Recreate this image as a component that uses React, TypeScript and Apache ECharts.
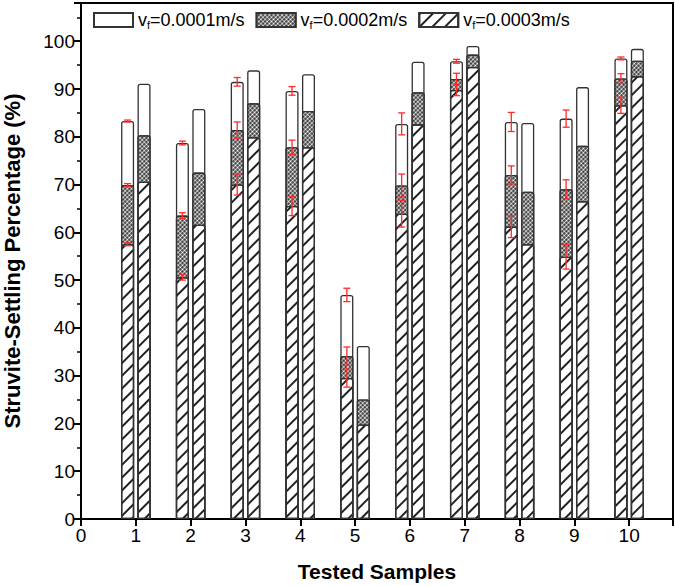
import React, { useEffect, useRef } from "react";
import * as echarts from "echarts";

const samples = [1, 2, 3, 4, 5, 6, 7, 8, 9, 10];
const speeds = ["0.0001", "0.0002", "0.0003"];

// left bars (with error bars)
const leftV1 = [83.3, 78.7, 91.5, 89.6, 46.9, 82.7, 95.8, 83.1, 83.8, 96.4];
const leftV2 = [69.9, 63.5, 81.4, 77.8, 34.1, 69.8, 92.1, 72.0, 69.0, 92.2];
const leftV3 = [57.5, 50.6, 70.0, 65.5, 29.5, 63.9, 89.8, 61.2, 54.9, 86.6];
const errV1 = [0.2, 0.4, 0.9, 0.9, 1.4, 2.3, 0.4, 2.0, 1.8, 0.3];
const errV2 = [0.3, 0.6, 1.7, 1.5, 1.9, 2.4, 1.2, 1.9, 2.0, 1.0];
const errV3 = [0.3, 0.6, 2.2, 2.0, 1.9, 2.8, 1.2, 2.3, 2.6, 1.7];

// right bars
const rightV1 = [91.1, 85.8, 93.9, 93.1, 36.2, 95.7, 99.0, 82.9, 90.4, 98.4];
const rightV2 = [80.3, 72.5, 87.0, 85.4, 25.0, 89.3, 97.2, 68.5, 78.1, 95.9];
const rightV3 = [70.6, 61.6, 79.9, 77.8, 19.8, 82.6, 94.6, 57.5, 66.5, 92.7];

const xTicks = [0, 1, 2, 3, 4, 5, 6, 7, 8, 9, 10];
const yTicks = [0, 10, 20, 30, 40, 50, 60, 70, 80, 90, 100];

const LEFT_OFF = -0.15;
const RIGHT_OFF = 0.15;
const FONT = 'Arial, "Liberation Sans", sans-serif';

const names = speeds.map((s) => `vf=${s}m/s`);

const fills = ["#ffffff", "#2b2b2b", "#ffffff"];
const decals: any[] = [
  undefined,
  {
    symbol: "circle",
    symbolSize: 0.75,
    color: "#ffffff",
    dashArrayX: [3, 0],
    dashArrayY: [3, 0],
    rotation: Math.PI / 4,
  },
  {
    symbol: "rect",
    symbolSize: 1,
    color: "#222",
    dashArrayX: [1, 0],
    dashArrayY: [1.1, 6.5],
    rotation: -Math.PI / 4,
  },
];

function barSeries(idx: number, values: number[], off: number) {
  return {
    type: "bar",
    name: names[idx],
    barWidth: 13,
    barGap: "-100%",
    data: samples.map((s, i) => [s + off, values[i]]),
    itemStyle: {
      color: fills[idx],
      borderColor: "#333",
      borderWidth: 1.3,
      borderRadius: [2, 2, 0, 0],
      decal: decals[idx],
    },
    silent: true,
  };
}

const errData = [
  ...samples.map((s, i) => [s + LEFT_OFF, leftV1[i], errV1[i]]),
  ...samples.map((s, i) => [s + LEFT_OFF, leftV2[i], errV2[i]]),
  ...samples.map((s, i) => [s + LEFT_OFF, leftV3[i], errV3[i]]),
];

export default function App() {
  const ref = useRef<HTMLDivElement>(null);
  useEffect(() => {
    if (!ref.current) return;
    const chart = echarts.init(ref.current, undefined, { renderer: "svg" });
    const option: any = {
      animation: false,
      aria: { enabled: false },
      grid: {
        left: 81,
        right: 2,
        top: 3,
        bottom: 67,
        show: true,
        borderColor: "#000",
        borderWidth: 2,
        backgroundColor: "transparent",
        containLabel: false,
        outerBoundsMode: "none",
      },
      legend: {
        data: names,
        left: 88,
        top: 6,
        icon: "rect",
        itemWidth: 39,
        itemHeight: 14,
        itemGap: 11,
        formatter: (n: string) => `v{sub|f}${n.slice(2)}`,
        textStyle: {
          fontSize: 18,
          color: "#000",
          fontFamily: FONT,
          rich: {
            sub: { fontSize: 11, fontFamily: FONT, color: "#000", padding: [10, 0, 0, 0] },
          },
        },
      },
      xAxis: {
        type: "value",
        min: 0,
        max: 10.8,
        interval: 1,
        name: "Tested Samples",
        nameLocation: "middle",
        nameGap: 42,
        nameTextStyle: { fontSize: 21, fontWeight: "bold", color: "#000", fontFamily: FONT },
        axisLine: { show: true, onZero: false, lineStyle: { color: "#000", width: 2 } },
        axisTick: { show: true, length: 7, lineStyle: { color: "#000", width: 2 } },
        axisLabel: {
          fontSize: 19,
          color: "#000",
          fontFamily: FONT,
          margin: 7,
          formatter: (v: number) => (xTicks.includes(v) ? String(v) : ""),
        },
        splitLine: { show: false },
      },
      yAxis: {
        type: "value",
        min: 0,
        max: 108,
        interval: 10,
        name: "Struvite-Settling Percentage (%)",
        nameLocation: "middle",
        nameGap: 58,
        nameTextStyle: { fontSize: 22, fontWeight: "bold", color: "#000", fontFamily: FONT },
        axisLine: { show: true, lineStyle: { color: "#000", width: 2 } },
        axisTick: { show: true, length: 7, lineStyle: { color: "#000", width: 2 } },
        minorTick: { show: true, splitNumber: 2, length: 4, lineStyle: { color: "#000", width: 1.5 } },
        axisLabel: {
          fontSize: 19,
          color: "#000",
          fontFamily: FONT,
          margin: 6,
          formatter: (v: number) => (yTicks.includes(v) ? String(v) : ""),
        },
        splitLine: { show: false },
        minorSplitLine: { show: false },
      },
      series: [
        barSeries(0, leftV1, LEFT_OFF),
        barSeries(1, leftV2, LEFT_OFF),
        barSeries(2, leftV3, LEFT_OFF),
        barSeries(0, rightV1, RIGHT_OFF),
        barSeries(1, rightV2, RIGHT_OFF),
        barSeries(2, rightV3, RIGHT_OFF),
        {
          type: "custom",
          name: "error",
          data: errData,
          z: 10,
          silent: true,
          renderItem: (params: any, api: any) => {
            const x = api.value(0);
            const y = api.value(1);
            const e = api.value(2);
            const t = api.coord([x, y + e]);
            const b = api.coord([x, y - e]);
            const hw = 3.5;
            const st = { stroke: "#ff2a2a", lineWidth: 1.3 };
            return {
              type: "group",
              children: [
                { type: "line", shape: { x1: t[0], y1: t[1], x2: b[0], y2: b[1] }, style: st },
                { type: "line", shape: { x1: t[0] - hw, y1: t[1], x2: t[0] + hw, y2: t[1] }, style: st },
                { type: "line", shape: { x1: b[0] - hw, y1: b[1], x2: b[0] + hw, y2: b[1] }, style: st },
              ],
            };
          },
        },
      ],
    };
    chart.setOption(option);
    return () => chart.dispose();
  }, []);
  return (
    <div
      ref={ref}
      style={{ position: "fixed", left: 0, top: 0, width: 675, height: 586, background: "#fff" }}
    />
  );
}
